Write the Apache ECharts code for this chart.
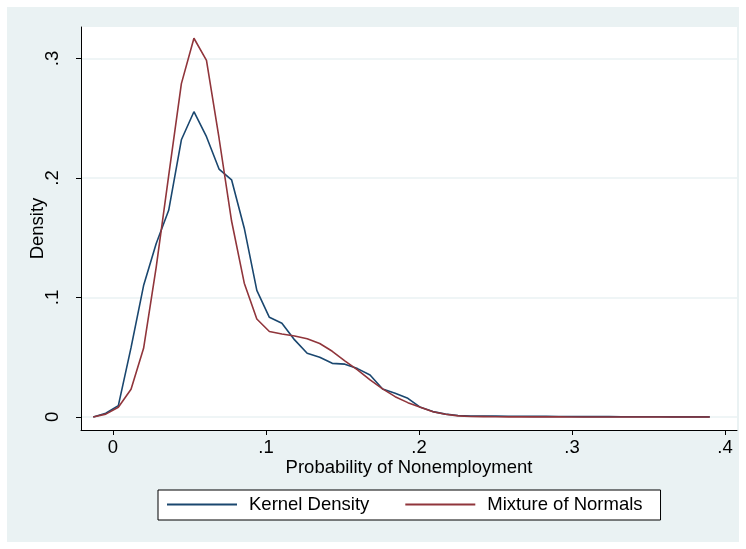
<!DOCTYPE html>
<html>
<head>
<meta charset="utf-8">
<script src="https://cdn.jsdelivr.net/npm/echarts@6/dist/echarts.min.js"></script>
<style>
  html, body { margin: 0; padding: 0; background: #fff; }
  #chart { width: 746px; height: 549px; }
</style>
</head>
<body>
<div id="chart"></div>
<script>
// grid of evaluation points (probability of nonemployment)
const xPoints = [
  -0.0129, -0.0047, 0.0035, 0.0118, 0.0200, 0.0282, 0.0364, 0.0447, 0.0529, 0.0611,
  0.0693, 0.0775, 0.0858, 0.0940, 0.1022, 0.1104, 0.1187, 0.1269, 0.1351, 0.1433,
  0.1515, 0.1598, 0.1680, 0.1762, 0.1844, 0.1927, 0.2009, 0.2091, 0.2173, 0.2255,
  0.2338, 0.2420, 0.2502, 0.2584, 0.2667, 0.2749, 0.2831, 0.2913, 0.2995, 0.3078,
  0.3160, 0.3242, 0.3324, 0.3406, 0.3489, 0.3571, 0.3653, 0.3735, 0.3818, 0.3900
];
const kernelDensity = [
  0.0000, 0.0031, 0.0095, 0.0580, 0.1100, 0.1450, 0.1730, 0.2320, 0.2555, 0.2346,
  0.2075, 0.1985, 0.1580, 0.1060, 0.0834, 0.0785, 0.0645, 0.0533, 0.0500, 0.0449,
  0.0442, 0.0405, 0.0351, 0.0234, 0.0198, 0.0156, 0.0081, 0.0045, 0.0024, 0.0012,
  0.0008, 0.0007, 0.0007, 0.0006, 0.0006, 0.0005, 0.0005, 0.0004, 0.0004, 0.0003,
  0.0003, 0.0003, 0.0002, 0.0002, 0.0002, 0.0002, 0.0001, 0.0001, 0.0001, 0.0001
];
const mixtureNormals = [
  0.0000, 0.0024, 0.0081, 0.0232, 0.0575, 0.1250, 0.2020, 0.2790, 0.3170, 0.2985,
  0.2335, 0.1640, 0.1120, 0.0820, 0.0715, 0.0695, 0.0678, 0.0655, 0.0615, 0.0550,
  0.0470, 0.0395, 0.0310, 0.0235, 0.0170, 0.0120, 0.0081, 0.0044, 0.0023, 0.0009,
  0.0004, 0.0003, 0.0002, 0.0001, 0.0001, 0.0001, 0.0001, 0.0001, 0.0000, 0.0000,
  0.0000, 0.0000, 0.0000, 0.0000, 0.0000, 0.0000, 0.0000, 0.0000, 0.0000, 0.0000
];
const xTicks = [0, 0.1, 0.2, 0.3, 0.4];
const yTicks = [0, 0.1, 0.2, 0.3];
const seriesNames = ['Kernel Density', 'Mixture of Normals'];

// stata style number labels: 0, .1, .2 ...
const fmt = (v) => {
  if (Math.abs(v) < 1e-9) return '0';
  return String(Math.round(v * 10) / 10).replace(/^0\./, '.');
};

const chart = echarts.init(document.getElementById('chart'));
const font = 'Liberation Sans, Arial, Helvetica, sans-serif';
const fs = 18.5;

let option = {
  backgroundColor: '#ffffff',
  animation: false,
  graphic: [
    {
      type: 'rect',
      z: -10,
      silent: true,
      shape: {x: 7, y: 7, width: 732, height: 535},
      style: {fill: '#eaf2f3'}
    }
  ],
  grid: {
    left: 81,
    top: 27,
    width: 656,
    height: 403,
    show: true,
    backgroundColor: '#ffffff',
    borderWidth: 0
  },
  legend: {
    left: 158,
    top: 490,
    data: seriesNames,
    icon: 'rect',
    itemWidth: 70,
    itemHeight: 2,
    itemGap: 36,
    backgroundColor: '#ffffff',
    borderColor: '#000000',
    borderWidth: 1,
    borderRadius: 0,
    padding: [5, 18, 6, 9],
    textStyle: {fontFamily: font, fontSize: fs, color: '#000', padding: [0, 0, 0, 7]}
  },
  xAxis: {
    type: 'value',
    min: -0.0209,
    max: 0.4078,
    name: 'Probability of Nonemployment',
    nameLocation: 'middle',
    nameMoveOverlap: false,
    nameGap: 28,
    nameTextStyle: {fontFamily: font, fontSize: fs, color: '#000'},
    axisLine: {show: true, onZero: false, lineStyle: {color: '#000', width: 1}},
    axisTick: {show: true, length: 5, customValues: xTicks, lineStyle: {color: '#000'}},
    axisLabel: {
      customValues: xTicks,
      formatter: fmt,
      margin: 8,
      fontFamily: font,
      fontSize: fs,
      color: '#000'
    },
    splitLine: {show: false}
  },
  yAxis: {
    type: 'value',
    min: -0.0109,
    max: 0.3264,
    name: 'Density',
    nameLocation: 'middle',
    nameMoveOverlap: false,
    nameGap: 34,
    nameRotate: 90,
    nameTextStyle: {fontFamily: font, fontSize: fs, color: '#000'},
    axisLine: {show: true, onZero: false, lineStyle: {color: '#000', width: 1}},
    axisTick: {show: true, length: 5, customValues: yTicks, lineStyle: {color: '#000'}},
    axisLabel: {
      customValues: yTicks,
      formatter: fmt,
      rotate: 90,
      margin: 19,
      fontFamily: font,
      fontSize: fs,
      color: '#000'
    },
    splitLine: {show: true, lineStyle: {color: '#eaf2f3', width: 1.5}}
  },
  series: [
    {
      name: seriesNames[0],
      type: 'line',
      data: xPoints.map((x, i) => [x, kernelDensity[i]]),
      showSymbol: false,
      symbol: 'none',
      color: '#1a476f',
      lineStyle: {color: '#1a476f', width: 1.6}
    },
    {
      name: seriesNames[1],
      type: 'line',
      data: xPoints.map((x, i) => [x, mixtureNormals[i]]),
      showSymbol: false,
      symbol: 'none',
      color: '#90353b',
      lineStyle: {color: '#90353b', width: 1.6}
    }
  ]
};

chart.setOption(option);
</script>
</body>
</html>
